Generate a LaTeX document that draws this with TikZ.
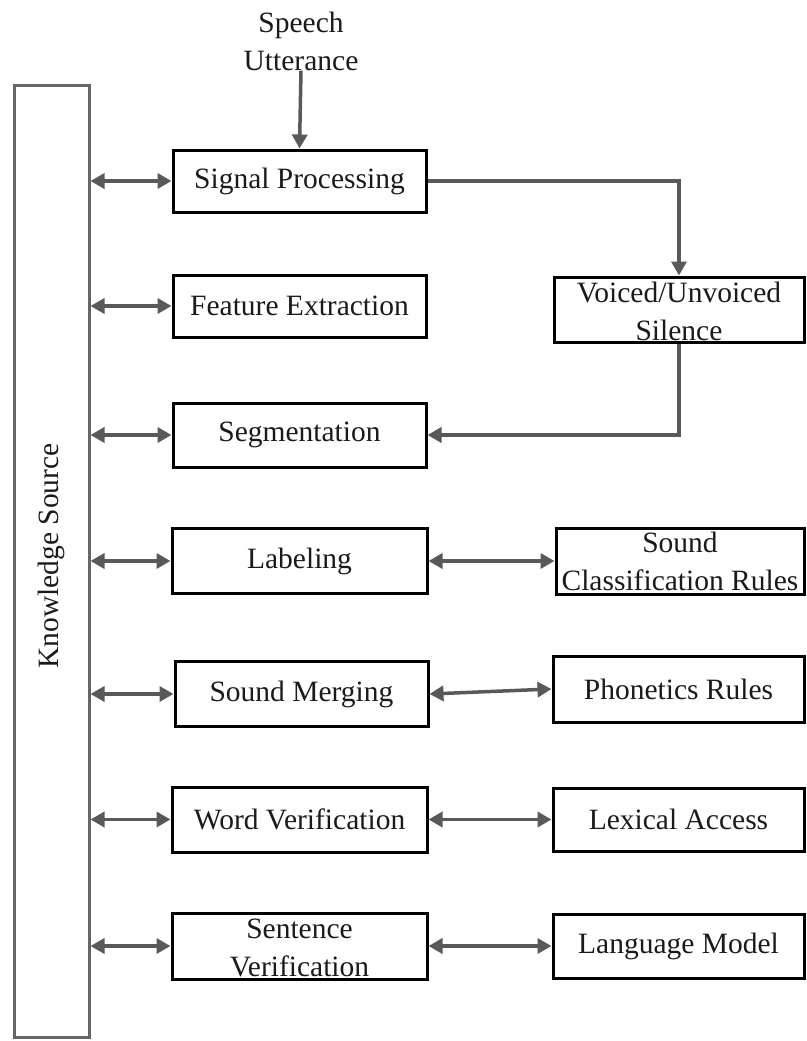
\documentclass[tikz,border=0pt]{standalone}
\usepackage{fontspec}
\setmainfont{Liberation Serif}
\usetikzlibrary{arrows.meta}
\definecolor{arrgray}{HTML}{595959}
\definecolor{ksgray}{HTML}{666666}
\definecolor{txt}{HTML}{1A1A1A}
\begin{document}
\begin{tikzpicture}[x=1pt,y=-1pt,
  every node/.style={font=\fontsize{29.5}{38}\selectfont, text=txt},
  box/.style={draw=black, line width=3pt, inner sep=0pt},
  lbl/.style={inner sep=0pt, align=center},
  arr/.style={draw=arrgray, line width=3.5pt, -{Triangle[length=14pt,width=15pt]}},
  darr/.style={draw=arrgray, line width=3.5pt, {Triangle[length=14pt,width=15pt]}-{Triangle[length=14pt,width=15pt]}}]
\useasboundingbox (0,0) rectangle (806,1041);
% Knowledge source
\node[draw=ksgray, line width=3pt, minimum width=75pt, minimum height=952pt, inner sep=0pt] (ks) at (51.5,561) {};
\node[lbl, rotate=90] (kst) at (51.5,556) {Knowledge Source};
% Speech utterance
\node[lbl] (su) at (301,41) {Speech\\Utterance};
% left column
\node[box, minimum width=253pt, minimum height=62pt] (sp) at (299.5,181) {Signal Processing};
\node[box, minimum width=253pt, minimum height=62pt] (fe) at (299.5,306) {Feature Extraction};
\node[box, minimum width=253pt, minimum height=64pt] (seg) at (299.5,435) {Segmentation};
\node[box, minimum width=255pt, minimum height=65pt] (lab) at (299.5,561) {Labeling};
\node[box, minimum width=253pt, minimum height=65pt] (sm) at (301.5,694) {Sound Merging};
\node[box, minimum width=255pt, minimum height=65pt] (wv) at (299.5,819.5) {Word Verification};
\node[box, minimum width=255pt, minimum height=66pt] (sv) at (299.5,946) {};
\node[lbl] (svt) at (299.5,948) {Sentence\\Verification};
% right column
\node[box, minimum width=250pt, minimum height=65pt] (vu) at (679,309.5) {};
\node[lbl] (vut) at (679,311) {Voiced/Unvoiced\\Silence};
\node[box, minimum width=248pt, minimum height=66pt] (scr) at (680,561) {};
\node[lbl] (scrt) at (680,561) {Sound\\Classification Rules};
\node[box, minimum width=251pt, minimum height=66pt] (pr) at (678.5,689) {Phonetics Rules};
\node[box, minimum width=251pt, minimum height=63pt] (la) at (678.5,819.5) {Lexical Access};
\node[box, minimum width=251pt, minimum height=64pt] (lm) at (678.5,946) {Language Model};
% connectors
\draw[arr] (su.south) -- (sp.north);
\draw[arr] (sp.east) -| (vu.north);
\draw[arr] (vu.south) |- (seg.east);
\draw[darr] (ks.east |- sp.west) -- (sp.west);
\draw[darr] (ks.east |- fe.west) -- (fe.west);
\draw[darr] (ks.east |- seg.west) -- (seg.west);
\draw[darr] (ks.east |- lab.west) -- (lab.west);
\draw[darr] (ks.east |- sm.west) -- (sm.west);
\draw[darr] (ks.east |- wv.west) -- (wv.west);
\draw[darr] (ks.east |- sv.west) -- (sv.west);
\draw[darr] (lab.east) -- (scr.west);
\draw[darr] (sm.east) -- (pr.west);
\draw[darr] (wv.east) -- (la.west);
\draw[darr] (sv.east) -- (lm.west);
\end{tikzpicture}
\end{document}
